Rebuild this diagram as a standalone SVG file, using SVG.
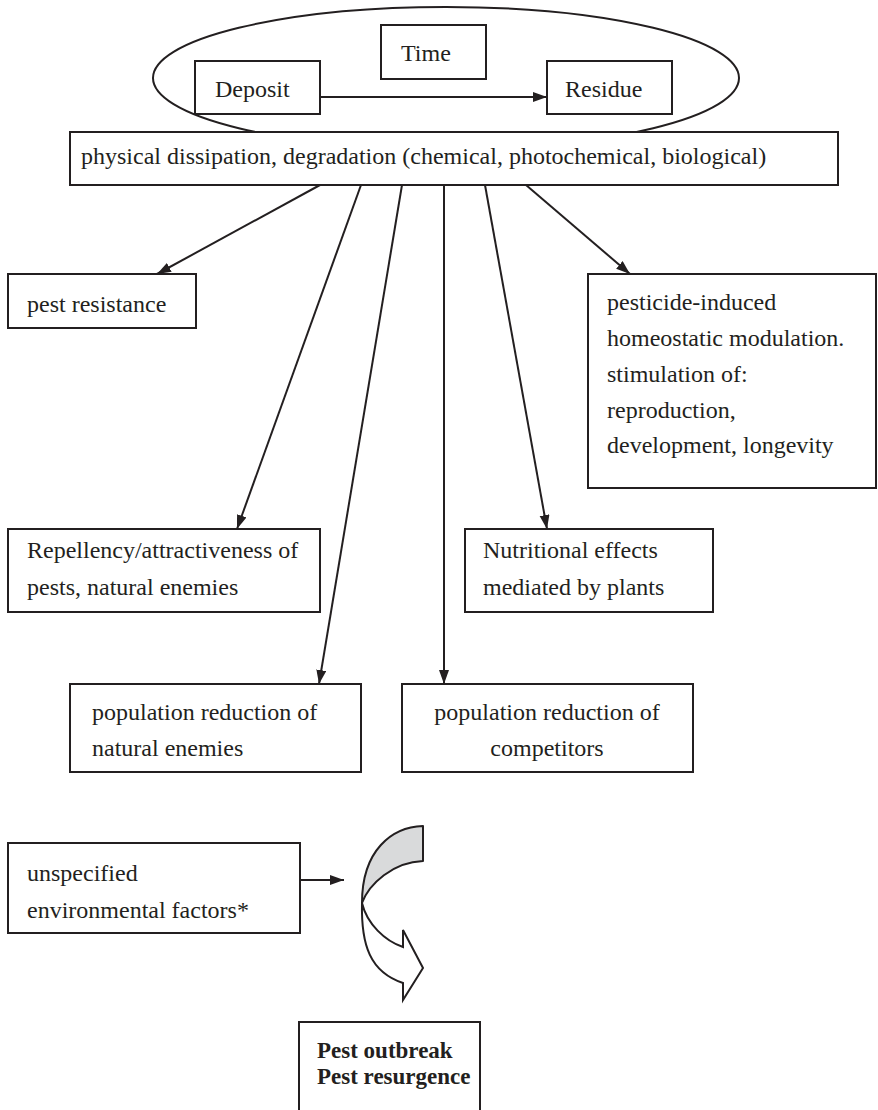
<svg xmlns="http://www.w3.org/2000/svg" width="878" height="1110" viewBox="0 0 878 1110" font-family="'Liberation Serif', 'Times New Roman', serif">
<defs>
<marker id="ah" markerUnits="userSpaceOnUse" markerWidth="15" markerHeight="12" refX="14" refY="5" orient="auto">
<path d="M0,0 L14,5 L0,10 Z" fill="#231f20"/>
</marker>
<style>
.box{fill:#fff;stroke:#231f20;stroke-width:2}
text{font-family:'Liberation Serif','Times New Roman',serif;font-size:24px;fill:#231f20}
.b{font-weight:bold;font-size:23px}
.m{text-anchor:middle}
.c{stroke:#231f20;stroke-width:2;fill:none;marker-end:url(#ah)}
</style>
</defs>
<rect width="878" height="1110" fill="#fff"/>
<g id="ellipse"><ellipse cx="446" cy="78" rx="293" ry="71" fill="none" stroke="#231f20" stroke-width="2"/></g>
<g id="time"><rect class="box" x="381" y="25" width="105" height="54"/><text x="401" y="61">Time</text></g>
<g id="deposit"><rect class="box" x="195" y="61" width="125" height="53"/><text x="215" y="97">Deposit</text></g>
<g id="residue"><rect class="box" x="547" y="61" width="125" height="53"/><text x="565" y="97">Residue</text></g>
<g id="physical"><rect class="box" x="70" y="132" width="768" height="53"/><text x="81" y="164">physical dissipation, degradation (chemical, photochemical, biological)</text></g>
<g id="pest-resistance"><rect class="box" x="8" y="274" width="188" height="54"/><text x="27" y="312">pest resistance</text></g>
<g id="pesticide-induced"><rect class="box" x="588" y="274" width="288" height="214"/>
<text x="607" y="310">pesticide-induced</text>
<text x="607" y="346">homeostatic modulation.</text>
<text x="607" y="382">stimulation of:</text>
<text x="607" y="418">reproduction,</text>
<text x="607" y="453">development, longevity</text></g>
<g id="repellency"><rect class="box" x="8" y="529" width="312" height="83"/>
<text x="27" y="558">Repellency/attractiveness of</text>
<text x="27" y="595">pests, natural enemies</text></g>
<g id="nutritional"><rect class="box" x="465" y="529" width="248" height="83"/>
<text x="483" y="558">Nutritional effects</text>
<text x="483" y="595">mediated by plants</text></g>
<g id="pop-enemies"><rect class="box" x="70" y="684" width="291" height="88"/>
<text x="92" y="720">population reduction of</text>
<text x="92" y="756">natural enemies</text></g>
<g id="pop-competitors"><rect class="box" x="402" y="684" width="291" height="88"/>
<text class="m" x="547" y="720">population reduction of</text>
<text class="m" x="547" y="756">competitors</text></g>
<g id="unspecified"><rect class="box" x="8" y="843" width="292" height="90"/>
<text x="27" y="881">unspecified</text>
<text x="27" y="918">environmental factors*</text></g>
<g id="curved-arrow">
<path d="M423,826 C392,827 362,850 362,903 C369,884 393,862 423,861 Z" fill="#d9dadb" stroke="#231f20" stroke-width="2" stroke-linejoin="round"/>
<path d="M362,903 C361,945 370,972 403,983 L403,1000 L423,968 L403,930 L403,947 C385,941 367,924 362,903 Z" fill="#fff" stroke="#231f20" stroke-width="2"/>
</g>
<g id="outcome"><path d="M299,1112 L299,1022 L480,1022 L480,1112" class="box"/>
<text class="b" x="317" y="1058">Pest outbreak</text>
<text class="b" x="317" y="1084">Pest resurgence</text></g>
<g id="connectors">
<line class="c" x1="320" y1="97" x2="547" y2="97"/>
<line class="c" x1="320" y1="185" x2="157" y2="274"/>
<line class="c" x1="361" y1="185" x2="237" y2="529"/>
<line class="c" x1="402" y1="185" x2="319" y2="684"/>
<line class="c" x1="444" y1="185" x2="444" y2="684"/>
<line class="c" x1="485" y1="185" x2="547" y2="529"/>
<line class="c" x1="526" y1="185" x2="630" y2="274"/>
<line class="c" x1="300" y1="880" x2="344" y2="880"/>
</g>
</svg>
